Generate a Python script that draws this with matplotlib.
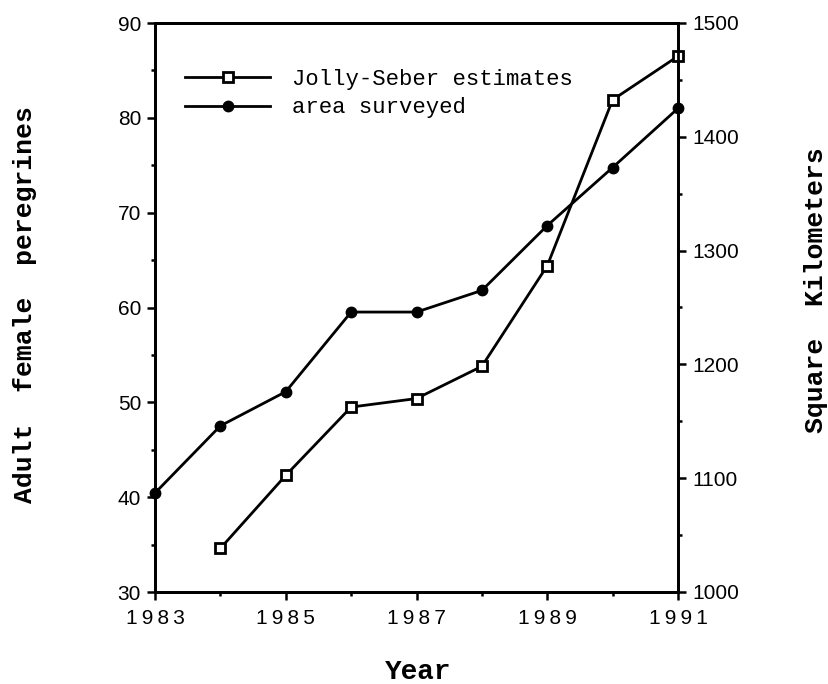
import numpy as np
import matplotlib.pyplot as plt
from matplotlib.ticker import MultipleLocator, FixedLocator, FuncFormatter

# --- DATOS ---
anios_js = [1984, 1985, 1986, 1987, 1988, 1989, 1990, 1991]
jolly_seber = [34.6, 42.3, 49.5, 50.4, 53.8, 64.4, 81.9, 86.5]

anios_area = [1983, 1984, 1985, 1986, 1987, 1988, 1989, 1990, 1991]
area_km2 = [1087, 1146, 1176, 1246, 1246, 1265, 1322, 1373, 1425]

anios_etiqueta = [1983, 1985, 1987, 1989, 1991]

FUENTE_TICKS = 'Liberation Sans'
FUENTE_TEXTO = 'Liberation Mono'

fig = plt.figure(figsize=(8.29, 6.84), dpi=100)
ax = fig.add_axes([155/829, 1 - 592/684, (678 - 155)/829, (592 - 23)/684])
ax2 = ax.twinx()

# serie izquierda: estimaciones Jolly-Seber
l1, = ax.plot(anios_js, jolly_seber, color='black', lw=2.0, marker='s',
              ms=7, mfc='white', mec='black', mew=2, clip_on=False, zorder=3)
# serie derecha: area muestreada
l2, = ax2.plot(anios_area, area_km2, color='black', lw=2.0, marker='o',
               ms=7.5, mfc='black', mec='black', clip_on=False, zorder=3)

ax.set_xlim(1983, 1991)
ax.set_ylim(30, 90)
ax2.set_ylim(1000, 1500)

ax.xaxis.set_major_locator(FixedLocator(anios_etiqueta))
ax.xaxis.set_minor_locator(MultipleLocator(1))
ax.yaxis.set_major_locator(MultipleLocator(10))
ax.yaxis.set_minor_locator(MultipleLocator(5))
ax2.yaxis.set_major_locator(MultipleLocator(100))
ax2.yaxis.set_minor_locator(MultipleLocator(50))

# digitos espaciados como en el original
ax.xaxis.set_major_formatter(FuncFormatter(lambda v, p: '\u2009'.join(str(int(v)))))

for a in (ax, ax2):
    for s in a.spines.values():
        s.set_linewidth(2.0)
    a.tick_params(which='major', direction='out', length=6, width=1.8,
                  labelsize=15, pad=4)
    a.tick_params(which='minor', direction='out', length=3, width=1.8)

ax.tick_params(axis='x', pad=6)
for lab in ax.get_xticklabels() + ax.get_yticklabels() + ax2.get_yticklabels():
    lab.set_family(FUENTE_TICKS)

# etiquetas de ejes
fig.text(25/829, 1 - 305/684, 'Adult  female  peregrines', rotation=90,
         ha='center', va='center', family=FUENTE_TEXTO, fontweight='bold', fontsize=19)
fig.text(816/829, 1 - 290/684, 'Square  Kilometers', rotation=90,
         ha='center', va='center', family=FUENTE_TEXTO, fontweight='bold', fontsize=19)
fig.text(418/829, 1 - 672/684, 'Year', ha='center', va='center',
         family=FUENTE_TEXTO, fontweight='bold', fontsize=20)

# leyenda sin marco
ax.legend([l1, l2], ['Jolly-Seber estimates', 'area surveyed'],
          loc='upper left', bbox_to_anchor=(0.02, 0.955), frameon=False,
          handlelength=3.8, handletextpad=1.0, labelspacing=0.35,
          prop={'family': FUENTE_TEXTO, 'size': 16})

plt.savefig('out.png', dpi=100)
plt.close()
